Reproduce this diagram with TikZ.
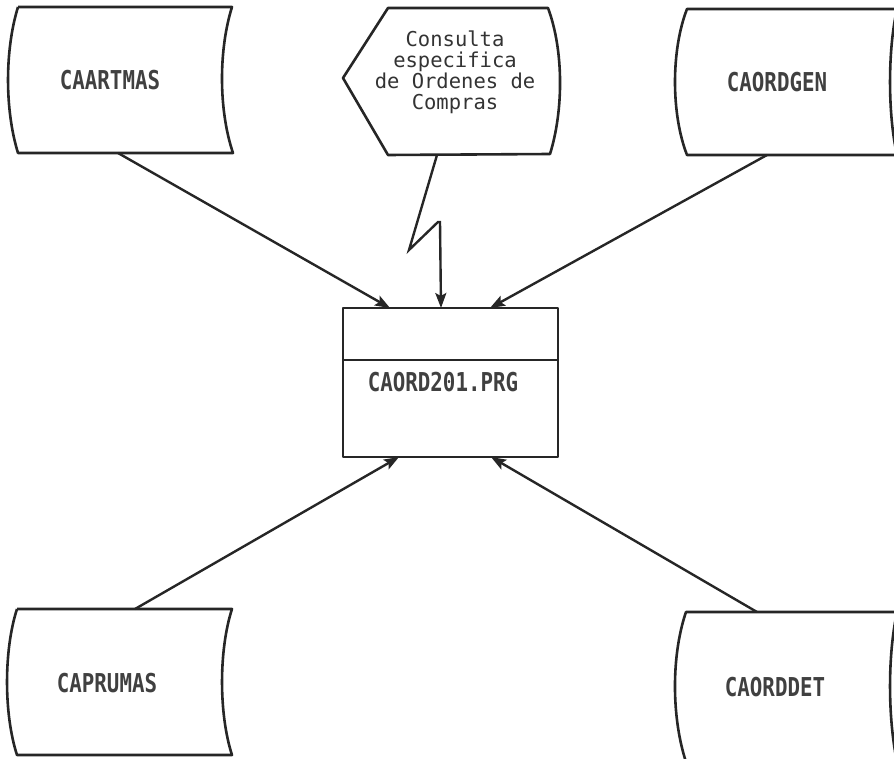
\documentclass[tikz,border=0pt]{standalone}
\usepackage{fontspec}
\newfontfamily\lblfont[FakeStretch=0.80]{DejaVu Sans Mono}
\newfontfamily\txtfont{DejaVu Sans Mono}
\usetikzlibrary{arrows.meta}
\begin{document}
\begin{tikzpicture}[x=1pt,y=-1pt,
  shapeline/.style={draw=black!85,line width=2.6pt,line join=round},
  conn/.style={draw=black!85,line width=2.4pt,-{Stealth[length=15pt,width=11pt,inset=3pt]}},
  filelbl/.style={font=\lblfont\bfseries\fontsize{26}{28}\selectfont,text=black!75,inner sep=0pt},
  conslbl/.style={font=\txtfont\fontsize{20.5}{21}\selectfont,text=black!80,align=center,inner sep=0pt}]
\useasboundingbox (0,0) rectangle (894,759);
\clip (0,0) rectangle (894,759);
% CAARTMAS
\draw[shapeline] (18,7) -- (232,7) .. controls (218.5,50) and (218.5,110) .. (233,153)
  -- (18,153) .. controls (4.7,110) and (4.7,50) .. (18,7);
\node[filelbl] (artmas) at (110,80) {CAARTMAS};
% CAORDGEN
\draw[shapeline] (900,9) -- (687,9) .. controls (671,50) and (671,114) .. (687,155) -- (900,155);
\draw[shapeline] (897,9) .. controls (887.7,50) and (887.7,114) .. (897,155);
\node[filelbl] (ordgen) at (777,82) {CAORDGEN};
% Consulta display
\draw[shapeline] (343,78) -- (388,8) -- (548,8) .. controls (563.7,50) and (563.7,110) .. (550,154) -- (388,155) -- cycle;
\node[conslbl] (consulta) at (455,72) {Consulta\\especifica\\de Ordenes de\\Compras};
% CAPRUMAS
\draw[shapeline] (17,609) -- (232,609) .. controls (218.7,650) and (218.7,714) .. (232,755)
  -- (17,755) .. controls (3.7,714) and (3.7,650) .. (17,609);
\node[filelbl] (prumas) at (107,683) {CAPRUMAS};
% CAORDDET
\draw[shapeline] (900,612) -- (686,612) .. controls (671.3,655) and (671.3,717) .. (686,762);
\draw[shapeline] (897,612) .. controls (887.7,655) and (887.7,717) .. (897,762);
\node[filelbl] (orddet) at (775,687) {CAORDDET};
% Program box
\draw[shapeline,line width=2.2pt] (343,308) rectangle (558,457);
\draw[shapeline,line width=1.8pt] (343,360) -- (558,360);
\node[filelbl] (prog) at (443,382) {CAORD201.PRG};
% connector anchor points
\coordinate (artB) at (118,153);
\coordinate (genB) at (767,155);
\coordinate (conB) at (437,155);
\coordinate (zz1) at (409,250);
\coordinate (zz2) at (438,222);
\coordinate (zz3) at (440,222);
\coordinate (prumT) at (135,609);
\coordinate (detT) at (757,612);
\coordinate (progT1) at (390,308);
\coordinate (progT2) at (441,308);
\coordinate (progT3) at (490,308);
\coordinate (progB1) at (399,457);
\coordinate (progB2) at (491,457);
% connectors
\draw[conn] (artB) -- (progT1);
\draw[conn] (genB) -- (progT3);
\draw[conn,line join=miter] (conB) -- (zz1) -- (zz2) -- (zz3) -- (progT2);
\draw[conn] (prumT) -- (progB1);
\draw[conn] (detT) -- (progB2);
\end{tikzpicture}
\end{document}
